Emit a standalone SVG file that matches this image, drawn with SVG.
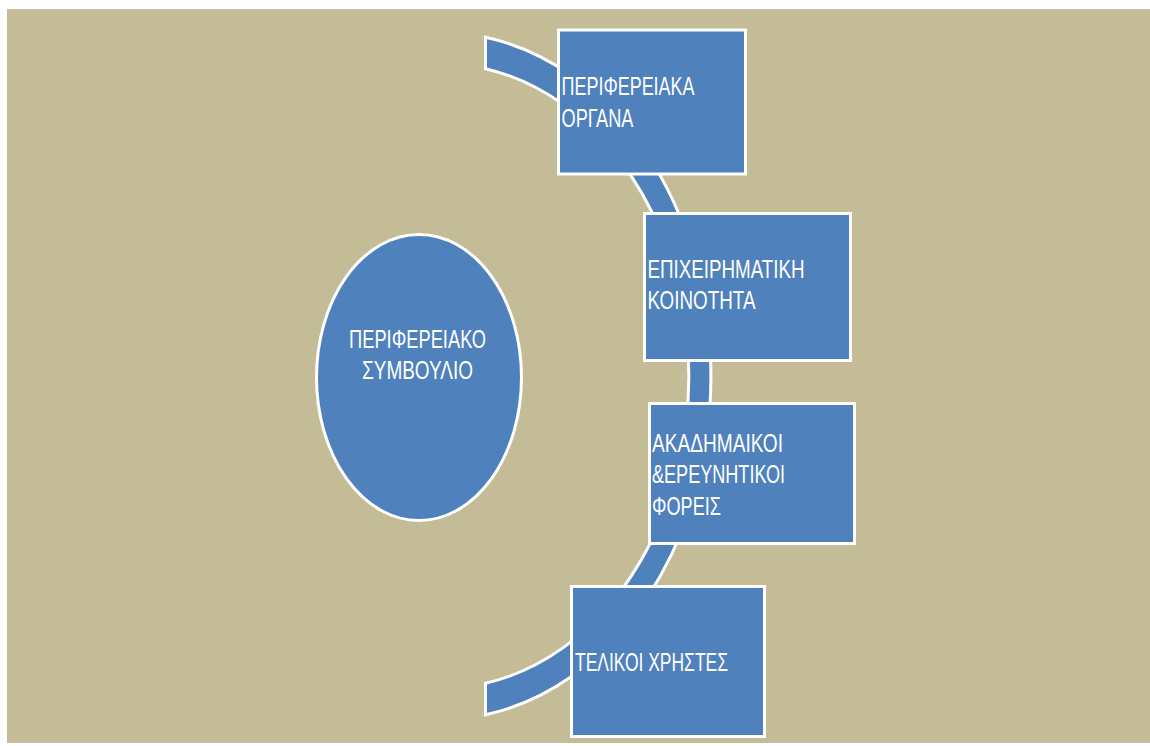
<svg xmlns="http://www.w3.org/2000/svg" width="1150" height="746" viewBox="0 0 1150 746">
<style>
.shape{fill:#4F81BD;stroke:#FFFFFF;stroke-width:3;stroke-linejoin:miter}
.lbl{font-family:"Liberation Sans",Arial,sans-serif;font-size:26px;fill:#FFFFFF}
</style>
<rect x="0" y="0" width="1150" height="746" fill="#FFFFFF"/>
<rect x="7" y="9" width="1143" height="734" fill="#C4BC97"/>
<g id="connectors">
<path class="shape" d="M 485.5,37.3 A 270.5 343.5 0 0 1 485.5,714.7 L 485.5,683.3 A 248.5 312.5 0 0 0 485.5,68.7 Z"/>
</g>
<g id="node-council">
<ellipse class="shape" cx="419" cy="377.5" rx="102.5" ry="143"/>
<text class="lbl" x="349" y="348" textLength="137" lengthAdjust="spacingAndGlyphs">ΠΕΡΙΦΕΡΕΙΑΚΟ</text>
<text class="lbl" x="362" y="379" textLength="111" lengthAdjust="spacingAndGlyphs">ΣΥΜΒΟΥΛΙΟ</text>
</g>
<g id="node-organa">
<rect class="shape" x="558.5" y="30" width="187" height="144"/>
<text class="lbl" x="561.5" y="95" textLength="133" lengthAdjust="spacingAndGlyphs">ΠΕΡΙΦΕΡΕΙΑΚΑ</text>
<text class="lbl" x="561.5" y="127" textLength="72" lengthAdjust="spacingAndGlyphs">ΟΡΓΑΝΑ</text>
</g>
<g id="node-business">
<rect class="shape" x="644.5" y="213.5" width="206" height="147"/>
<text class="lbl" x="647.5" y="278" textLength="157" lengthAdjust="spacingAndGlyphs">ΕΠΙΧΕΙΡΗΜΑΤΙΚΗ</text>
<text class="lbl" x="647.5" y="308.5" textLength="108" lengthAdjust="spacingAndGlyphs">ΚΟΙΝΟΤΗΤΑ</text>
</g>
<g id="node-academic">
<rect class="shape" x="649.5" y="403.5" width="205" height="140"/>
<text class="lbl" x="652" y="452" textLength="131" lengthAdjust="spacingAndGlyphs">ΑΚΑΔΗΜΑΙΚΟΙ</text>
<text class="lbl" x="652" y="483" textLength="133" lengthAdjust="spacingAndGlyphs">&amp;ΕΡΕΥΝΗΤΙΚΟΙ</text>
<text class="lbl" x="652" y="515" textLength="69" lengthAdjust="spacingAndGlyphs">ΦΟΡΕΙΣ</text>
</g>
<g id="node-users">
<rect class="shape" x="571.5" y="586.5" width="193" height="150"/>
<text class="lbl" x="575" y="671" textLength="153" lengthAdjust="spacingAndGlyphs">ΤΕΛΙΚΟΙ ΧΡΗΣΤΕΣ</text>
</g>
</svg>
